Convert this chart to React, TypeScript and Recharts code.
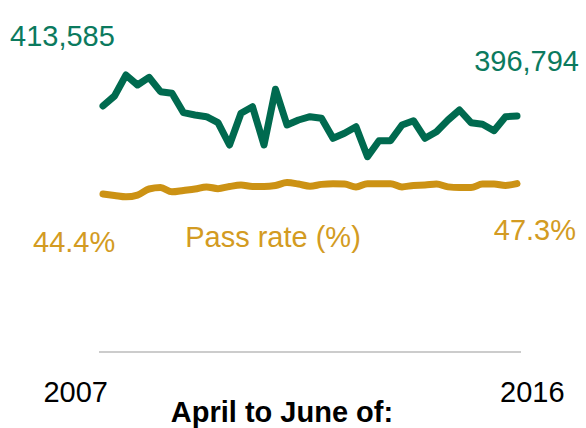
import React from "react";
import {
  LineChart,
  Line,
  XAxis,
  YAxis,
  LabelList,
  Customized,
} from "recharts";

// quarters: April to June 2007 ... April to June 2016
const quarters = [
  "2007 Q2", "2007 Q3", "2007 Q4", "2008 Q1", "2008 Q2", "2008 Q3", "2008 Q4", "2009 Q1",
  "2009 Q2", "2009 Q3", "2009 Q4", "2010 Q1", "2010 Q2", "2010 Q3", "2010 Q4", "2011 Q1",
  "2011 Q2", "2011 Q3", "2011 Q4", "2012 Q1", "2012 Q2", "2012 Q3", "2012 Q4", "2013 Q1",
  "2013 Q2", "2013 Q3", "2013 Q4", "2014 Q1", "2014 Q2", "2014 Q3", "2014 Q4", "2015 Q1",
  "2015 Q2", "2015 Q3", "2015 Q4", "2016 Q1", "2016 Q2",
];

const testsConducted = [
  413585, 430300, 465600, 448800, 461800, 437600, 434900, 402300,
  398400, 395500, 385500, 348000, 401300, 412300, 348000, 441600,
  381600, 390000, 395500, 392900, 359200, 367600, 378700, 328300,
  355200, 355200, 381600, 388800, 359200, 370300, 390000, 406800,
  385500, 382800, 372000, 395500, 396794,
];

const passRate = [
  44.4, 44.0, 43.6, 44.1, 45.8, 46.2, 45.0, 45.4,
  45.8, 46.4, 45.9, 46.5, 46.9, 46.5, 46.5, 46.8,
  47.6, 47.2, 46.6, 47.1, 47.3, 47.2, 46.4, 47.3,
  47.3, 47.3, 46.4, 46.8, 46.9, 47.2, 46.4, 46.2,
  46.2, 47.2, 47.2, 46.8, 47.3,
];

const yearTicks = ["2007 Q2", "2016 Q2"];

const data = quarters.map((q, i) => ({
  q,
  tests: testsConducted[i],
  pass: passRate[i],
}));

const GREEN = "#006a4f";
const GREEN_TEXT = "#0b7a5e";
const GOLD = "#cc9214";
const GOLD_TEXT = "#d39b22";
const FONT = "'Liberation Sans', Arial, sans-serif";
const SIZE = 29;
const last = data.length - 1;

const endLabel =
  (fmt: (v: number) => string, color: string, first: [number, number], end: [number, number]) =>
  (props: any) => {
    const { x, y, index, value } = props;
    if (index !== 0 && index !== last) return null;
    const [dx, dy] = index === 0 ? first : end;
    return (
      <text
        x={x + dx}
        y={y + dy}
        textAnchor={index === 0 ? "start" : "end"}
        fill={color}
        fontSize={SIZE}
        fontFamily={FONT}
      >
        {fmt(value)}
      </text>
    );
  };

const YearTick = (props: any) => {
  const { x, y, payload } = props;
  const isFirst = payload.value === yearTicks[0];
  return (
    <text
      x={isFirst ? x + 5 : x - 17}
      y={y + 42}
      textAnchor={isFirst ? "end" : "start"}
      fill="#000"
      fontSize={SIZE}
      fontFamily={FONT}
    >
      {payload.value.slice(0, 4)}
    </text>
  );
};

const SeriesName = () => (
  <text x={273} y={247} textAnchor="middle" fill={GOLD_TEXT} fontSize={SIZE} fontFamily={FONT}>
    Pass rate (%)
  </text>
);

const AxisTitle = () => (
  <text x={282} y={422} textAnchor="middle" fill="#000" fontSize={SIZE} fontWeight="bold" fontFamily={FONT}>
    April to June of:
  </text>
);

export default function App() {
  return (
    <div style={{ position: "absolute", left: 0, top: 0, background: "#fff" }}>
      <LineChart
        width={586}
        height={428}
        data={data}
        margin={{ top: 52, right: 65, left: 99, bottom: 46 }}
      >
        <XAxis
          dataKey="q"
          ticks={yearTicks}
          interval={0}
          height={30}
          tick={<YearTick />}
          tickLine={false}
          axisLine={{ stroke: "#cccccc", strokeWidth: 2 }}
          padding={{ left: 4, right: 4 }}
        />
        <YAxis yAxisId="tests" hide domain={[0, 504300]} />
        <YAxis yAxisId="pass" hide domain={[0, 84.3]} />
        <Line
          yAxisId="tests"
          dataKey="tests"
          type="linear"
          stroke={GREEN}
          strokeWidth={7}
          strokeLinejoin="round"
          strokeLinecap="round"
          dot={false}
          isAnimationActive={false}
        >
          <LabelList
            dataKey="tests"
            content={endLabel((v) => v.toLocaleString("en-GB"), GREEN_TEXT, [-93, -60], [62, -45])}
          />
        </Line>
        <Line
          yAxisId="pass"
          dataKey="pass"
          type="monotone"
          stroke={GOLD}
          strokeWidth={7}
          strokeLinejoin="round"
          strokeLinecap="round"
          dot={false}
          isAnimationActive={false}
        >
          <LabelList
            dataKey="pass"
            content={endLabel((v) => v.toFixed(1) + "%", GOLD_TEXT, [-70, 58], [59, 56])}
          />
        </Line>
        <Customized component={SeriesName} />
        <Customized component={AxisTitle} />
      </LineChart>
    </div>
  );
}
